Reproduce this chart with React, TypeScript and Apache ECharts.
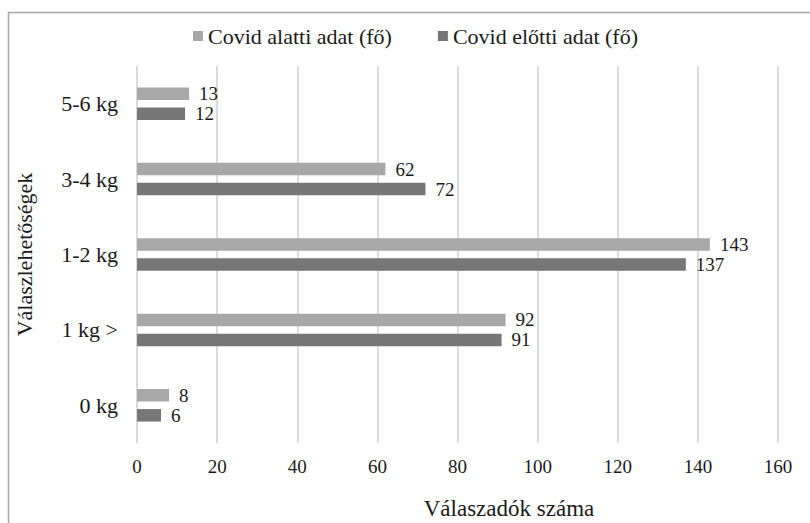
import React, { useEffect, useRef } from "react";
import * as echarts from "echarts";

const categories = ["0 kg", "1 kg >", "1-2 kg", "3-4 kg", "5-6 kg"];
const covidAlatti = [8, 92, 143, 62, 13];
const covidElotti = [6, 91, 137, 72, 12];
const xTicks = { min: 0, max: 160, interval: 20 };
const seriesNames = ["Covid alatti adat (fő)", "Covid előtti adat (fő)"];

const FONT = "Liberation Serif";
const TXT = "#1a1a1a";

export default function App() {
  const ref = useRef<HTMLDivElement>(null);
  useEffect(() => {
    if (!ref.current) return;
    const chart = echarts.init(ref.current, null, { renderer: "svg" });
    const label = {
      show: true,
      position: "right",
      distance: 10,
      fontFamily: FONT,
      fontSize: 19,
      color: TXT,
    };
    chart.setOption({
      animation: false,
      backgroundColor: "#ffffff",
      textStyle: { fontFamily: FONT },
      legend: {
        data: seriesNames,
        left: 188,
        top: 20,
        itemWidth: 10,
        itemHeight: 10,
        itemGap: 46,
        icon: "rect",
        textStyle: { fontFamily: FONT, fontSize: 22, color: TXT },
      },
      grid: { left: 137, right: 32, top: 66, bottom: 80, containLabel: false },
      xAxis: {
        type: "value",
        min: xTicks.min,
        max: xTicks.max,
        interval: xTicks.interval,
        axisLine: { show: false },
        axisTick: { show: false },
        axisLabel: { fontFamily: FONT, fontSize: 19, color: TXT, margin: 14 },
        splitLine: { show: true, lineStyle: { color: "#cfcfcf", width: 1.5 } },
      },
      yAxis: {
        type: "category",
        data: categories,
        name: "Válaszlehetőségek",
        nameLocation: "middle",
        nameGap: 102,
        nameRotate: 90,
        nameTextStyle: { fontFamily: FONT, fontSize: 22, color: TXT },
        axisLine: { show: false },
        axisTick: { show: false },
        axisLabel: { fontFamily: FONT, fontSize: 22, color: TXT, margin: 19 },
      },
      graphic: [
        {
          type: "rect",
          shape: { x: 8.5, y: 12.5, width: 900, height: 700 },
          style: { fill: "none", stroke: "#a8a8a8", lineWidth: 1.5 },
          silent: true,
        },
        {
          type: "text",
          x: 509,
          y: 508,
          style: {
            text: "Válaszadók száma",
            fontFamily: FONT,
            fontSize: 23,
            fill: TXT,
            align: "center",
            verticalAlign: "middle",
          },
        },
      ],
      series: [
        {
          name: seriesNames[0],
          type: "bar",
          data: covidAlatti,
          barWidth: 12.5,
          barGap: "60%",
          itemStyle: { color: "#a8a8a8" },
          label,
        },
        {
          name: seriesNames[1],
          type: "bar",
          data: covidElotti,
          barWidth: 12.5,
          barGap: "60%",
          itemStyle: { color: "#777777" },
          label,
        },
      ],
    });
    return () => chart.dispose();
  }, []);
  return (
    <div
      ref={ref}
      style={{ position: "fixed", left: 0, top: 0, width: 810, height: 523 }}
    />
  );
}
